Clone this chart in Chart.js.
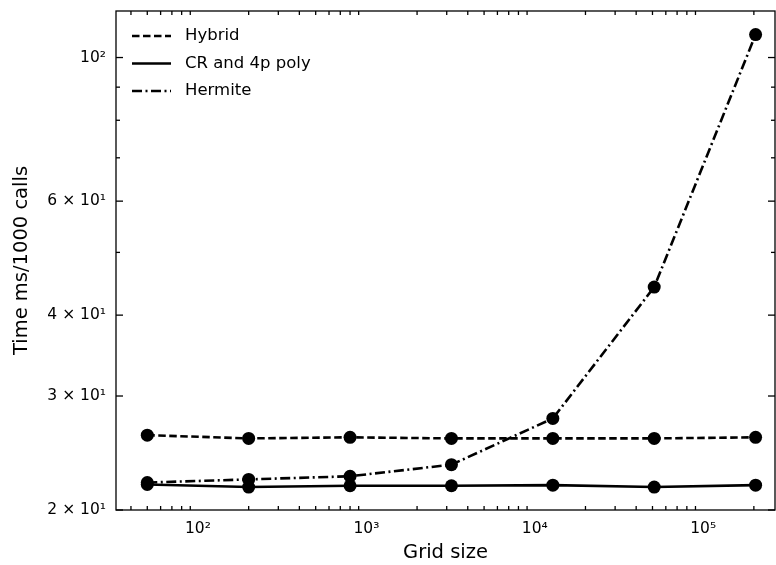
<!DOCTYPE html>
<html lang="en">
<head>
<meta charset="UTF-8">
<title>Interpolation timing</title>
<script src="https://cdn.jsdelivr.net/npm/chart.js"></script>
<style>
  body { margin: 0; padding: 0; background: #fff; }
  #wrap { width: 776px; height: 565px; }
</style>
</head>
<body>
<div id="wrap"><canvas id="chart" width="776" height="565"></canvas></div>
<script>
// grid sizes and timings (ms per 1000 calls)
const gridSizes = [50, 200, 800, 3200, 12800, 51200, 204800];
const hybrid = [26.1, 25.8, 25.9, 25.8, 25.8, 25.8, 25.9];
const crPoly = [21.9, 21.7, 21.8, 21.8, 21.85, 21.7, 21.85];
const hermite = [22.05, 22.3, 22.55, 23.5, 27.7, 44.2, 108.5];

const xMajor = [100, 1000, 10000, 100000];
const xLabels = ['10²', '10³', '10⁴', '10⁵'];
const yMajor = [20, 30, 40, 60, 100];
const yLabels = ['2 × 10¹', '3 × 10¹', '4 × 10¹', '6 × 10¹', '10²'];
const yMinor = [50, 70, 80, 90];

const FONT = "'DejaVu Sans', sans-serif";
const LW = 2.6;

function xMinorTicks() {
  const out = [];
  for (let d = 10; d <= 100000; d *= 10)
    for (let k = 2; k <= 9; k++) out.push(d * k);
  return out;
}

function series(label, data, dash) {
  return {
    label: label,
    data: gridSizes.map((g, i) => ({ x: g, y: data[i] })),
    borderColor: '#000',
    backgroundColor: '#000',
    borderWidth: LW,
    borderDash: dash,
    pointRadius: 6.5,
    pointHoverRadius: 6.5,
    pointBackgroundColor: '#000',
    pointBorderWidth: 0,
    tension: 0
  };
}

// inward ticks on all sides + frame + legend
const decor = {
  id: 'decor',
  afterDraw(chart) {
    const ctx = chart.ctx, a = chart.chartArea;
    const xs = chart.scales.x, ys = chart.scales.y;
    ctx.save();
    ctx.strokeStyle = '#000';
    ctx.lineWidth = 1.3;
    ctx.setLineDash([]);
    ctx.strokeRect(a.left, a.top, a.right - a.left, a.bottom - a.top);

    const tick = (x1, y1, x2, y2) => { ctx.beginPath(); ctx.moveTo(x1, y1); ctx.lineTo(x2, y2); ctx.stroke(); };
    xMinorTicks().forEach(v => {
      const px = xs.getPixelForValue(v);
      if (px <= a.left || px >= a.right) return;
      const len = xMajor.includes(v) ? 7 : 4;
      tick(px, a.bottom, px, a.bottom - len);
      tick(px, a.top, px, a.top + len);
    });
    yMajor.concat(yMinor).forEach(v => {
      const py = ys.getPixelForValue(v);
      if (py < a.top || py > a.bottom) return;
      const len = yMajor.includes(v) ? 7 : 4;
      tick(a.left, py, a.left + len, py);
      tick(a.right, py, a.right - len, py);
    });

    // legend
    const rows = [['Hybrid', [7.5, 3.5]], ['CR and 4p poly', []], ['Hermite', [10, 3.5, 2, 3.5]]];
    ctx.font = '16.5px ' + FONT;
    ctx.fillStyle = '#000';
    ctx.textBaseline = 'middle';
    rows.forEach((r, i) => {
      const y = 36 + i * 27.5;
      ctx.lineWidth = LW;
      ctx.setLineDash(r[1]);
      tick(132, y, 171, y);
      ctx.fillText(r[0], 185, y);
    });
    ctx.restore();
  }
};

new Chart(document.getElementById('chart'), {
  type: 'line',
  data: {
    datasets: [
      series('Hybrid', hybrid, [7.5, 3.5]),
      series('CR and 4p poly', crPoly, []),
      series('Hermite', hermite, [10, 3.5, 2, 3.5])
    ]
  },
  options: {
    responsive: false,
    animation: false,
    layout: { autoPadding: false, padding: { top: 11, right: 1, left: 0, bottom: 0 } },
    plugins: { legend: { display: false }, tooltip: { enabled: false } },
    scales: {
      x: {
        type: 'logarithmic',
        min: 32.6,
        max: 267000,
        grid: { display: false, drawTicks: false },
        border: { display: false },
        afterBuildTicks(scale) { scale.ticks = xMajor.map(v => ({ value: v })); },
        afterFit(scale) { scale.height = 55; scale.paddingLeft = 0; scale.paddingRight = 0; },
        ticks: {
          autoSkip: false,
          maxRotation: 0,
          padding: 10,
          color: '#000',
          font: { family: FONT, size: 15.5 },
          callback: (v) => xLabels[xMajor.indexOf(v)]
        },
        title: {
          display: true,
          text: 'Grid size',
          color: '#000',
          font: { family: FONT, size: 19.5 },
          padding: { top: 2, bottom: 0 }
        }
      },
      y: {
        type: 'logarithmic',
        min: 20,
        max: 118,
        grid: { display: false, drawTicks: false },
        border: { display: false },
        afterBuildTicks(scale) { scale.ticks = yMajor.map(v => ({ value: v })); },
        afterFit(scale) { scale.width = 116; scale.paddingTop = 0; scale.paddingBottom = 0; },
        ticks: {
          autoSkip: false,
          padding: 10,
          color: '#000',
          font: { family: FONT, size: 15.5 },
          callback: (v) => yLabels[yMajor.indexOf(v)]
        },
        title: {
          display: true,
          text: 'Time ms/1000 calls',
          color: '#000',
          font: { family: FONT, size: 19.5 },
          padding: { top: 10, bottom: 4 }
        }
      }
    }
  },
  plugins: [decor]
});
</script>
</body>
</html>
